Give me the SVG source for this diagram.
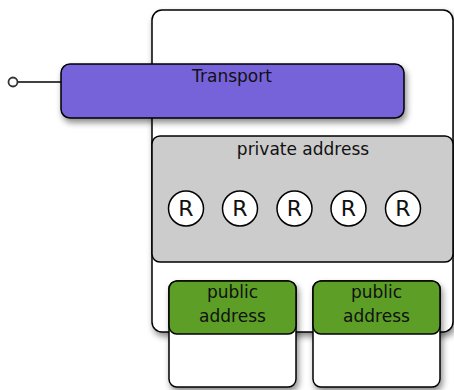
<svg xmlns="http://www.w3.org/2000/svg" width="454" height="390" viewBox="0 0 454 390">
<defs>
<filter id="sh" x="-10%" y="-10%" width="130%" height="140%">
<feDropShadow dx="2" dy="4" stdDeviation="3" flood-color="#000" flood-opacity="0.45"/>
</filter>
</defs>
<style>
.box{stroke:#000;stroke-width:1.5}
.lbl{font-family:"DejaVu Sans",sans-serif;font-size:17px;fill:#111;text-anchor:middle}
.r{font-family:"DejaVu Sans",sans-serif;font-size:22px;fill:#111;text-anchor:middle}
.rc{fill:#fff;stroke:#000;stroke-width:1.5}
</style>
<rect width="454" height="390" fill="#fff"/>
<g id="host">
<rect class="box" x="152" y="10" width="301" height="322" rx="10" fill="#fff" filter="url(#sh)"/>
</g>
<g id="connectors">
<line x1="18" y1="82" x2="61" y2="82" stroke="#000" stroke-width="1.5"/>
<circle cx="13" cy="82" r="4.5" fill="#fff" stroke="#333" stroke-width="1.8"/>
</g>
<g id="transport">
<rect class="box" x="61" y="64" width="343" height="54" rx="9" fill="#7763D9" filter="url(#sh)"/>
<text class="lbl" x="232" y="82">Transport</text>
</g>
<g id="private">
<rect class="box" x="152" y="136" width="301" height="126" rx="8" fill="#CCCCCC"/>
<text class="lbl" x="303" y="155">private address</text>
<g id="r1"><circle class="rc" cx="186" cy="208.5" r="17.5"/><text class="r" x="186" y="216">R</text></g>
<g id="r2"><circle class="rc" cx="240" cy="208.5" r="17.5"/><text class="r" x="240" y="216">R</text></g>
<g id="r3"><circle class="rc" cx="294.5" cy="208.5" r="17.5"/><text class="r" x="294.5" y="216">R</text></g>
<g id="r4"><circle class="rc" cx="348.5" cy="208.5" r="17.5"/><text class="r" x="348.5" y="216">R</text></g>
<g id="r5"><circle class="rc" cx="403" cy="208.5" r="17.5"/><text class="r" x="403" y="216">R</text></g>
</g>
<g id="public1">
<rect class="box" x="169" y="281" width="127" height="106" rx="8" fill="#fff" filter="url(#sh)"/>
<rect class="box" x="169" y="281" width="127" height="53" rx="8" fill="#5C9E26"/>
<text class="lbl" x="232.5" y="298">public</text>
<text class="lbl" x="232.5" y="322">address</text>
</g>
<g id="public2">
<rect class="box" x="313" y="281" width="127" height="106" rx="8" fill="#fff" filter="url(#sh)"/>
<rect class="box" x="313" y="281" width="127" height="53" rx="8" fill="#5C9E26"/>
<text class="lbl" x="376.5" y="298">public</text>
<text class="lbl" x="376.5" y="322">address</text>
</g>
</svg>
